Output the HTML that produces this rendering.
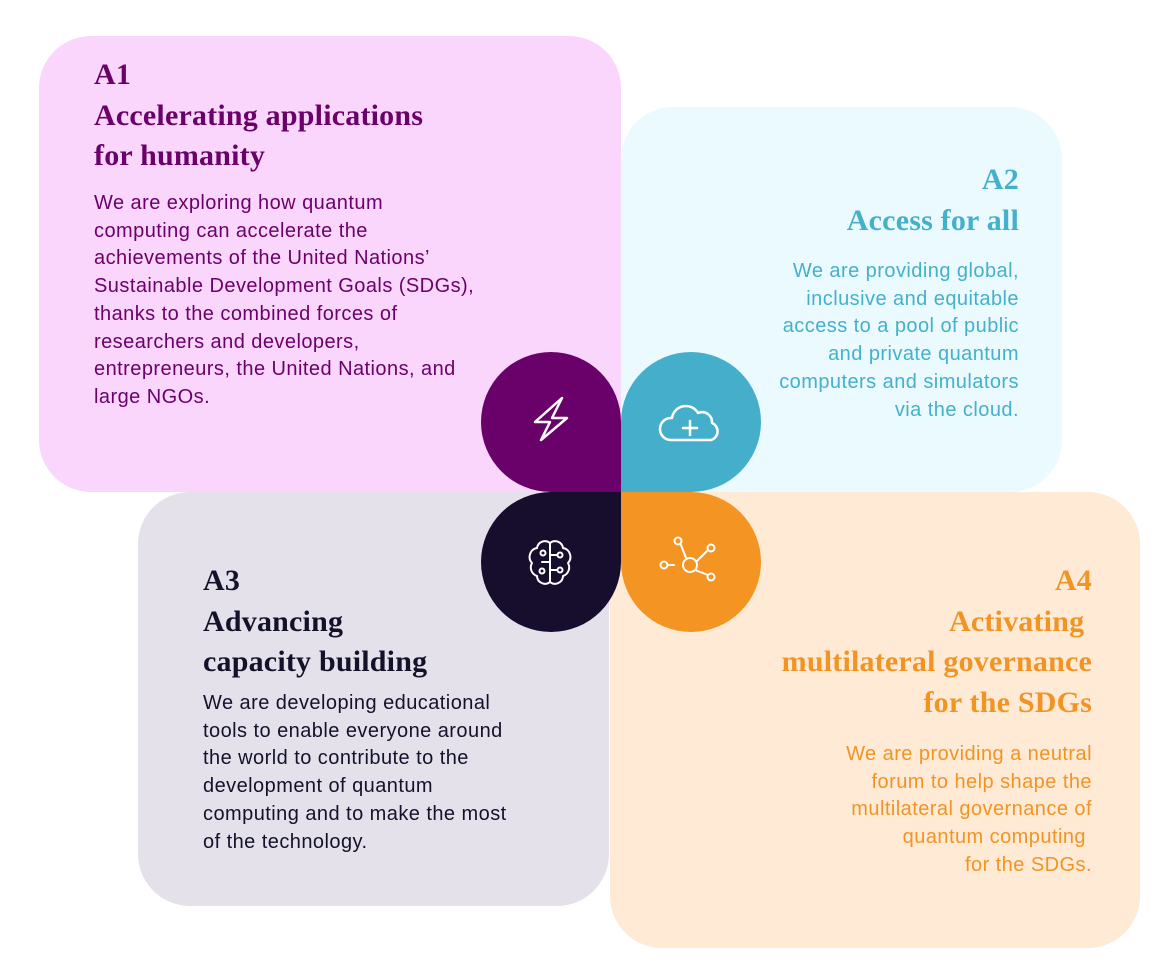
<!DOCTYPE html>
<html><head><meta charset="utf-8"><style>
body{margin:0;width:1164px;height:968px;background:#fff;position:relative;overflow:hidden;font-family:"Liberation Sans",sans-serif}
.b{position:absolute}
.h{position:absolute;font-family:"Liberation Serif",serif;font-weight:bold;font-size:30px;line-height:40.5px;white-space:nowrap;letter-spacing:0.2px}
.t{position:absolute;font-size:20px;line-height:27.7px;white-space:nowrap;letter-spacing:0.45px}
.r{text-align:right}
</style></head><body>
<div class="b" style="left:621px;top:107px;width:441px;height:385px;background:#eafaff;border-radius:52px"></div>
<div class="b" style="left:39px;top:36px;width:582px;height:456px;background:#fad5fc;border-radius:52px"></div>
<div class="b" style="left:138px;top:492px;width:471px;height:414px;background:#e4e1ea;border-radius:52px"></div>
<div class="b" style="left:610px;top:492px;width:530px;height:456px;background:#ffead6;border-radius:52px"></div>

<div class="h" style="left:94px;top:55px;color:#6a006a">A1<br>Accelerating applications<br>for humanity</div>
<div class="t" style="left:94px;top:190px;color:#6a006a">We are exploring how quantum<br>computing can accelerate the<br>achievements of the United Nations’<br>Sustainable Development Goals (SDGs),<br>thanks to the combined forces of<br>researchers and developers,<br>entrepreneurs, the United Nations, and<br>large NGOs.</div>

<div class="h r" style="right:145px;top:160px;color:#45b0cc">A2<br>Access for all</div>
<div class="t r" style="right:145px;top:258px;color:#45b0cc">We are providing global,<br>inclusive and equitable<br>access to a pool of public<br>and private quantum<br>computers and simulators<br>via the cloud.</div>

<div class="h" style="left:203px;top:561px;color:#14122b">A3<br>Advancing<br>capacity building</div>
<div class="t" style="left:203px;top:690px;color:#14122b">We are developing educational<br>tools to enable everyone around<br>the world to contribute to the<br>development of quantum<br>computing and to make the most<br>of the technology.</div>

<div class="h r" style="right:72px;top:561px;color:#f29424">A4<br>Activating&nbsp;<br>multilateral governance<br>for the SDGs</div>
<div class="t r" style="right:72px;top:741px;color:#f29424">We are providing a neutral<br>forum to help shape the<br>multilateral governance of<br>quantum computing&nbsp;<br>for the SDGs.</div>

<div class="b" style="left:481px;top:352px;width:140px;height:140px;background:#6a006a;border-radius:70px 70px 0 70px"></div>
<div class="b" style="left:621px;top:352px;width:140px;height:140px;background:#45afcb;border-radius:70px 70px 70px 0"></div>
<div class="b" style="left:481px;top:492px;width:140px;height:140px;background:#170d2d;border-radius:70px 0 70px 70px"></div>
<div class="b" style="left:621px;top:492px;width:140px;height:140px;background:#f39423;border-radius:0 70px 70px 70px"></div>

<svg class="b" style="left:0;top:0" width="1164" height="968" fill="none" stroke="#fff" stroke-width="2.5" stroke-linejoin="round" stroke-linecap="round">
<path d="M562,398 L535,422 L550,422 L541,440 L567,418 L552,418 Z"/>
<path d="M670,440 H711 A9,9 0 0 0 712,423 A10,10 0 0 0 698,413 A14,14 0 0 0 672,418 A11,11 0 0 0 670,440 Z"/>
<path d="M690,421 V435 M683,428 H697" />
<g stroke-width="2">
<path d="M550,543 A8,8 0 0 0 537,548 A9,9 0 0 0 532,563 A9,9 0 0 0 537,576 A8,8 0 0 0 550,582 Z"/>
<path d="M550,543 A8,8 0 0 1 563,548 A9,9 0 0 1 568,563 A9,9 0 0 1 563,576 A8,8 0 0 1 550,582"/>
<path d="M550,555 H557 M550,570 H557 M542,562 H550"/>
<circle cx="560" cy="555" r="2.5"/><circle cx="560" cy="570" r="2.5"/><circle cx="543" cy="553" r="2.5"/><circle cx="542" cy="571" r="2.5"/>
<circle cx="690" cy="565" r="7"/>
<circle cx="678" cy="541" r="3.5"/><circle cx="711" cy="548" r="3.5"/><circle cx="711" cy="577" r="3.5"/><circle cx="664" cy="565" r="3.5"/>
<path d="M681,545 L686,558 M697,561 L707,551 M695,570 L708,575 M668,565 H674"/>
</g>
</svg>
</body></html>
